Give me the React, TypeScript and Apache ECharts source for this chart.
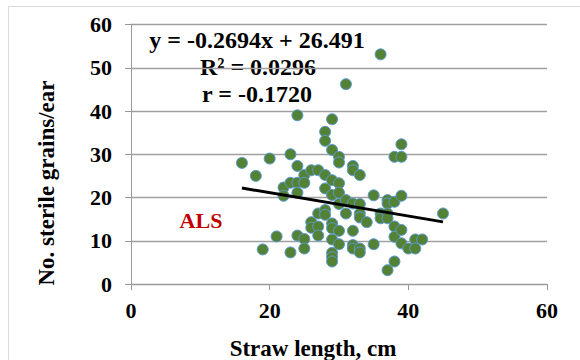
import React, { useEffect, useRef } from "react";
import * as echarts from "echarts";

const strawLength: number[] = [
  16, 18, 20, 19, 21, 23, 23, 22, 22, 23, 24, 24, 24, 24, 24, 25, 25, 25, 25, 26,
  26, 26, 27, 27, 27, 27, 28, 28, 28, 28, 28, 28, 29, 29, 29, 29, 29, 29, 29, 29,
  29, 29, 30, 30, 30, 30, 30, 30, 30, 31, 31, 31, 32, 32, 32, 32, 32, 32, 33, 33,
  33, 33, 33, 33, 34, 35, 35, 36, 36, 36, 37, 37, 37, 37, 37, 38, 38, 38, 38, 38,
  39, 39, 39, 39, 39, 40, 41, 41, 42, 45,
];
const sterileGrains: number[] = [
  28, 25, 29, 8, 11, 30, 7.3, 22.3, 20.4, 23.4, 39, 27.3, 23.4, 21.1, 11.2, 25.2, 23.4, 10.4, 8.2, 26.3,
  14.3, 13, 26.3, 16.3, 13.3, 11.2, 35.2, 33.1, 25.2, 22.1, 17.1, 16, 38.1, 31, 24, 20.6, 14, 12.9, 10.3, 7.2,
  6.2, 5.2, 29.4, 28.1, 23.3, 21.1, 18.5, 12.3, 9.2, 46.2, 19.4, 16.3, 27.3, 26.3, 18.6, 12.3, 9, 8.2, 25.2, 18.5,
  16.3, 15.4, 8.2, 7.3, 14.3, 20.5, 9.2, 53.1, 16.3, 15.2, 19.4, 18.6, 16.3, 15.2, 3.2, 29.4, 19, 13.3, 10.9, 5.2,
  32.3, 29.4, 20.4, 12.5, 9.4, 8.2, 10.3, 8.2, 10.3, 16.3,
];
const slope = -0.2694;
const intercept = 26.491;
const trendRange: number[] = [16, 45];
const xTicks = { min: 0, max: 60, interval: 20 };
const yTicks = { min: 0, max: 60, interval: 10 };
const equationLines: string[] = ["y = -0.2694x + 26.491", "R² = 0.0296", "r = -0.1720"];
const groupLabel = "ALS";
const xTitle = "Straw length, cm";
const yTitle = "No. sterile grains/ear";

const FONT = "'Liberation Serif', 'Times New Roman', serif";

export default function App() {
  const ref = useRef<HTMLDivElement>(null);
  useEffect(() => {
    if (!ref.current) return;
    const chart = echarts.init(ref.current, undefined, { renderer: "svg" });
    const points = strawLength.map((x, i) => [x, sterileGrains[i]]);
    const trend = trendRange.map((x) => [x, slope * x + intercept]);
    const textStyle = (size: number, color = "#000") => ({
      fill: color,
      font: `bold ${size}px ${FONT}`,
      textAlign: "center",
      textVerticalAlign: "middle",
    });
    chart.setOption({
      animation: false,
      backgroundColor: "#fff",
      grid: { left: 131, right: 33, top: 24.5, bottom: 76, outerBoundsMode: "none" },
      xAxis: {
        type: "value",
        ...xTicks,
        splitLine: { show: false },
        axisLine: { show: true, lineStyle: { color: "#999", width: 1 } },
        axisTick: { show: true, length: 6, lineStyle: { color: "#999" } },
        axisLabel: { color: "#000", fontFamily: FONT, fontWeight: "bold", fontSize: 22, margin: 15 },
      },
      yAxis: {
        type: "value",
        ...yTicks,
        splitLine: { show: true, lineStyle: { color: "#a0a0a0", width: 1.3 } },
        axisLine: { show: true, lineStyle: { color: "#999", width: 1 } },
        axisTick: { show: true, length: 6, lineStyle: { color: "#999" } },
        axisLabel: { color: "#000", fontFamily: FONT, fontWeight: "bold", fontSize: 22, margin: 19 },
      },
      series: [
        {
          type: "scatter",
          data: points,
          symbol: "circle",
          symbolSize: 11,
          itemStyle: { color: "#548235", borderColor: "#5b9bd5", borderWidth: 1, opacity: 1 },
          z: 2,
        },
        {
          type: "line",
          data: trend,
          symbol: "none",
          lineStyle: { color: "#000", width: 3 },
          z: 3,
        },
      ],
      graphic: [
        {
          type: "rect",
          shape: { x: 8.5, y: 6.5, width: 620, height: 420 },
          style: { fill: "none", stroke: "#d9d9d9", lineWidth: 1 },
          silent: true,
        },
        { type: "text", x: 257, y: 40, style: { text: equationLines[0], ...textStyle(24) } },
        { type: "text", x: 258, y: 67, style: { text: equationLines[1], ...textStyle(24) } },
        { type: "text", x: 257, y: 94, style: { text: equationLines[2], ...textStyle(24) } },
        { type: "text", x: 201, y: 220, style: { text: groupLabel, ...textStyle(22, "#c00000") } },
        { type: "text", x: 313, y: 348, style: { text: xTitle, ...textStyle(23) } },
        {
          type: "text",
          x: 46,
          y: 183,
          rotation: Math.PI / 2,
          style: { text: yTitle, ...textStyle(23) },
        },
      ],
    });
    return () => chart.dispose();
  }, []);
  return (
    <div
      ref={ref}
      style={{ position: "fixed", left: 0, top: 0, width: 580, height: 360, background: "#fff" }}
    />
  );
}
